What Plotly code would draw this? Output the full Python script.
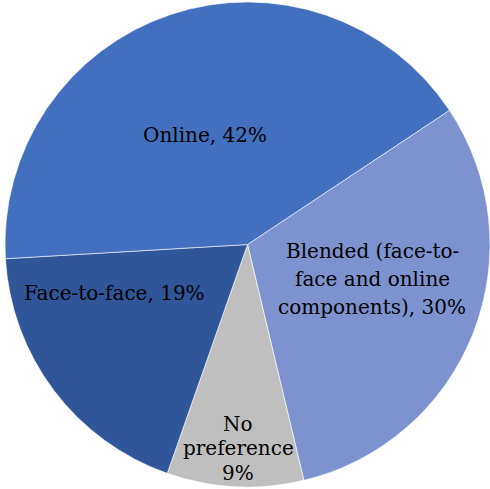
import plotly.graph_objects as go

labels = ["Blended (face-to-face and online components)", "No preference", "Face-to-face", "Online"]
values = [30.6, 9.1, 18.7, 41.6]
label_lines = [["Blended (face-to-", "face and online", "components), 30%"],
               ["No", "preference", "9%"],
               ["Face-to-face, 19%"],
               ["Online, 42%"]]
colors = ["#7C93D0", "#BFBFBF", "#30569A", "#4270BE"]
# label centre (px) and line spacing (px)
label_pos = [(372, 279, 28), (238, 448, 24.5), (114, 293, 0), (205, 135, 0)]

W, H = 490, 489

fig = go.Figure(go.Pie(
    labels=labels, values=values, sort=False, direction="clockwise", rotation=56.4,
    marker=dict(colors=colors, line=dict(color="rgba(255,255,255,0.6)", width=1)),
    textinfo="none", hoverinfo="label+percent", showlegend=False,
    domain=dict(x=[5 / W, 1], y=[0, 1]),
))

for lines, (px, py, sp) in zip(label_lines, label_pos):
    n = len(lines)
    for i, t in enumerate(lines):
        ly = py + (i - (n - 1) / 2) * sp
        fig.add_annotation(x=px / W, y=1 - ly / H, xref="paper", yref="paper", text=t,
                           showarrow=False, xanchor="center", yanchor="middle",
                           font=dict(family="DejaVu Serif", size=20, color="#000000"))

fig.update_layout(width=W, height=H, margin=dict(l=0, r=0, t=0, b=0),
                  paper_bgcolor="white", plot_bgcolor="white")
fig.write_html("out.html", config={"displayModeBar": False},
               post_script="document.body.style.margin='0';document.body.style.overflow='hidden';")
